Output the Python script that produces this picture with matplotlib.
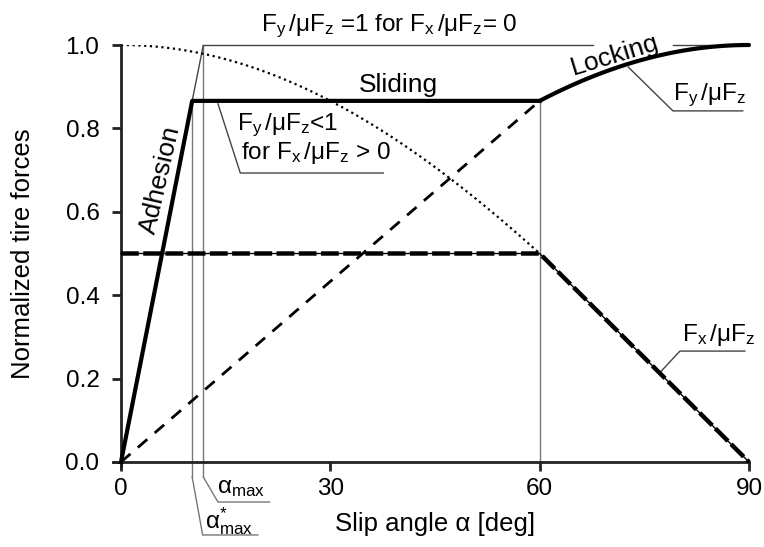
import numpy as np
import matplotlib
matplotlib.use("Agg")
import matplotlib.pyplot as plt

plt.rcParams['font.family'] = ['Liberation Sans', 'DejaVu Sans']
plt.rcParams['mathtext.fontset'] = 'custom'
plt.rcParams['mathtext.rm'] = 'Liberation Sans'
plt.rcParams['mathtext.it'] = 'Liberation Sans'
plt.rcParams['mathtext.default'] = 'regular'

# ---- data ----
alpha_star_max = 10.2          # end of adhesion (deg)
alpha_max = 11.8               # where adhesion line would reach 1.0
alpha_lock = 60.0
fy_slide = 0.866               # sliding level Fy/muFz
fx_level = 0.5                 # Fx/muFz level up to 60 deg

# Fy (thick solid): adhesion -> sliding -> locking
fy_x = [0, alpha_star_max, alpha_lock]
fy_y = [0, fy_slide, fy_slide]
lock_x = np.linspace(60, 90, 61)
lock_y = np.sin(np.radians(lock_x))

# dotted cos curve
cos_x = np.linspace(0, 60, 121)
cos_y = np.cos(np.radians(cos_x))

# thin dashed ramp
ramp_x = [0, 60]
ramp_y = [0, 0.866]

# Fx (thick dashed)
fx_x = [0, 60, 90]
fx_y = [fx_level, fx_level, 0]

xticks = [0, 30, 60, 90]
yticks = [0.0, 0.2, 0.4, 0.6, 0.8, 1.0]

W, H = 764, 547
fig = plt.figure(figsize=(W / 100, H / 100), dpi=100)
ax = fig.add_axes([121 / W, 1 - 462 / H, (749 - 121) / W, (462 - 45) / H])
ax.set_xlim(0, 90)
ax.set_ylim(0, 1.0)

for s in ['top', 'right']:
    ax.spines[s].set_visible(False)
ax.spines['left'].set_bounds(-0.012, 1.0)
ax.spines['bottom'].set_bounds(-1.2, 90)
for s in ['left', 'bottom']:
    ax.spines[s].set_linewidth(2.0)
    ax.spines[s].set_color('#222222')
ax.set_xticks(xticks)
ax.set_yticks(yticks)
ax.set_xticklabels([str(v) for v in xticks])
ax.set_yticklabels([f"{v:.1f}" for v in yticks])
ax.tick_params(direction='out', length=6.5, width=2, labelsize=17.5, color='#222222')
ax.tick_params(axis='y', pad=9)
ax.tick_params(axis='x', pad=5)

ax.set_xlabel('Slip angle α [deg]', fontsize=18.5, labelpad=9)
ax.set_ylabel('Normalized tire forces', fontsize=18.5, labelpad=22)

gray = '#777777'
lead = '#444444'
fs = 17.5

# vertical thin guide lines
ax.plot([alpha_star_max, alpha_star_max], [fy_slide, -0.036], color=gray, lw=1.0, clip_on=False, zorder=2)
ax.plot([alpha_max, alpha_max], [1.0, -0.036], color=gray, lw=1.0, clip_on=False, zorder=2)
ax.plot([60, 60], [fy_slide, 0], color=gray, lw=1.0, zorder=2)

# curves
ax.plot(cos_x, cos_y, color='black', lw=1.6, ls=(0, (1, 1.6)), zorder=3)
ax.plot(ramp_x, ramp_y, color='black', lw=2.0, ls=(0, (4.5, 3.5)), zorder=3)
ax.plot(fx_x, fx_y, color='black', lw=1.0, zorder=3, clip_on=False)
ax.plot(fx_x, fx_y, color='black', lw=3.2, ls=(0, (4.0, 1.0)), zorder=4, clip_on=False)
ax.plot(fy_x, fy_y, color='black', lw=3.0, zorder=5, clip_on=False)
ax.plot(lock_x, lock_y, color='black', lw=3.0, zorder=5, clip_on=False, solid_capstyle='round')

# extension of adhesion line to 1.0 and the Fy=1 underline
ax.plot([alpha_star_max, alpha_max], [fy_slide, 1.0], color=lead, lw=1.0, zorder=2)
ax.plot([alpha_max, 67.6], [1.0, 1.0], color=lead, lw=1.0, zorder=2, clip_on=False)
ax.plot([79.1, 84.5], [1.0, 1.0], color=lead, lw=1.0, zorder=2, clip_on=False)

# texts
ax.text(20.0, 1.012, r'$F_y\,/\mu F_z$ =1 for $F_x\,/\mu F_z$= 0', fontsize=fs,
        ha='left', va='bottom')
ax.text(39.7, 0.904, 'Sliding', fontsize=19, ha='center', va='center')
ax.text(70.8, 0.976, 'Locking', fontsize=19, ha='center', va='center', rotation=17)
ax.text(5.6, 0.676, 'Adhesion', fontsize=19, ha='center', va='center', rotation=77)

# Fy<1 annotation
ax.plot([13.9, 17.1, 37.6], [0.859, 0.693, 0.693], color=lead, lw=1.0, zorder=2)
ax.text(16.6, 0.808, r'$F_y\,/\mu F_z$<1', fontsize=fs, ha='left', va='center')
ax.text(17.2, 0.740, r'for $F_x\,/\mu F_z$ > 0', fontsize=fs, ha='left', va='center')

# Fy label right
ax.plot([72.7, 79.1, 89.1], [0.947, 0.842, 0.842], color=lead, lw=1.0, zorder=2)
ax.text(79.1, 0.88, r'$F_y\,/\mu F_z$', fontsize=fs, ha='left', va='center')

# Fx label right
ax.plot([77.2, 80.1, 89.4], [0.214, 0.266, 0.266], color=lead, lw=1.0, zorder=2)
ax.text(80.4, 0.305, r'$F_x\,/\mu F_z$', fontsize=fs, ha='left', va='center')

# alpha_max labels below axis
ax.plot([alpha_max, 13.9, 21.3], [-0.036, -0.096, -0.096], color=gray, lw=1.0, clip_on=False)
ax.text(13.8, -0.062, r'$α_{max}$', fontsize=fs, ha='left', va='center')
ax.plot([alpha_star_max, 11.7, 19.6], [-0.036, -0.175, -0.175], color=gray, lw=1.0, clip_on=False)
ax.text(12.0, -0.141, r'$α^{*}_{max}$', fontsize=fs, ha='left', va='center')

fig.savefig('out.png', dpi=100)
